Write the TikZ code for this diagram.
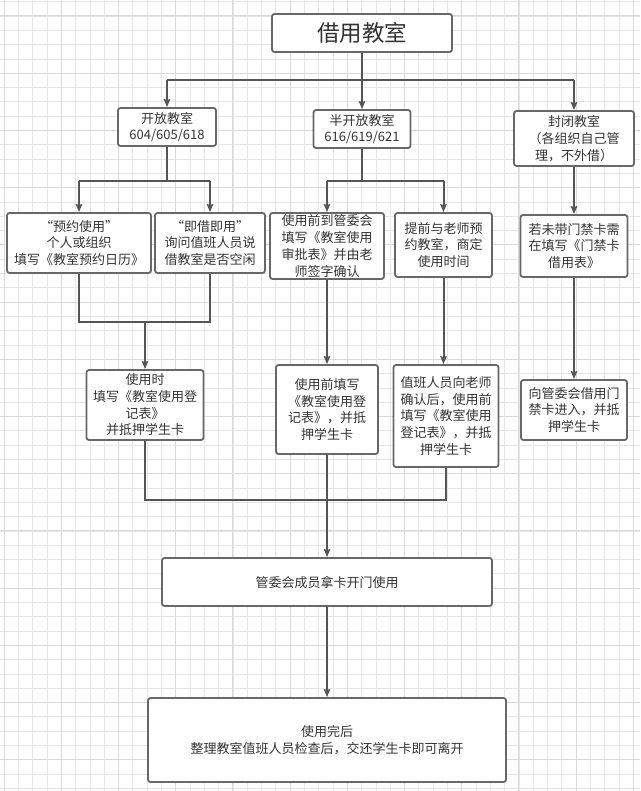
\documentclass[tikz,border=0pt]{standalone}
\usepackage{fontspec}
\setmainfont{Noto Sans CJK SC}
\usetikzlibrary{arrows.meta}
\definecolor{boxline}{HTML}{686868}
\definecolor{conline}{HTML}{555555}
\definecolor{txt}{HTML}{333333}
\definecolor{gminor}{HTML}{E6E6E6}
\definecolor{gmajor}{HTML}{D9D9D9}
\tikzset{
  box/.style={draw=boxline, line width=1.8pt, rounded corners=2.5pt, fill=white,
    align=center, inner sep=0pt, text=txt,
    font=\fontsize{13}{16.7}\selectfont},
  con/.style={draw=conline, line width=2pt},
  arr/.style={con, -{Stealth[length=8pt,width=6.5pt,inset=1pt]}},
  gridminor/.style={draw=gminor, line width=0.6pt},
  gridmajor/.style={draw=gmajor, line width=1pt},
}
\begin{document}
\begin{tikzpicture}[x=1pt,y=-1pt]
\useasboundingbox (0,0) rectangle (640,791);
\fill[white] (0,0) rectangle (640,791);
% grid
\foreach \i in {0,...,44} {\pgfmathsetmacro\xx{4+14.3*\i}\draw[gridminor] (\xx,0) -- (\xx,791);}
\foreach \i in {0,...,55} {\pgfmathsetmacro\yy{1.7+14.3*\i}\draw[gridminor] (0,\yy) -- (640,\yy);}
\foreach \i in {0,...,11} {\pgfmathsetmacro\xx{4+57.2*\i}\draw[gridmajor] (\xx,0) -- (\xx,791);}
\foreach \i in {0,...,13} {\pgfmathsetmacro\yy{16+57.2*\i}\draw[gridmajor] (0,\yy) -- (640,\yy);}

% boxes
\node[box, minimum width=180pt, minimum height=38pt, font=\fontsize{22.5}{26}\selectfont] (title) at (362,33) {借用教室};
\node[box, minimum width=98pt, minimum height=38pt] (open) at (167,127) {开放教室\\604/605/618};
\node[box, minimum width=97pt, minimum height=38pt] (semi) at (362,129) {半开放教室\\616/619/621};
\node[box, minimum width=120pt, minimum height=55pt] (closed) at (574,138.5) {封闭教室\\（各组织自己管\\理，不外借）};

\node[box, minimum width=144pt, minimum height=60pt] (A) at (79,243) {“预约使用”\\个人或组织\\填写《教室预约日历》};
\node[box, minimum width=110pt, minimum height=60pt] (B) at (210,243) {“即借即用”\\询问值班人员说\\借教室是否空闲};
\node[box, minimum width=114pt, minimum height=66pt] (C) at (327,246) {使用前到管委会\\填写《教室使用\\审批表》并由老\\师签字确认};
\node[box, minimum width=97pt, minimum height=64pt] (D) at (443.5,245) {提前与老师预\\约教室，商定\\使用时间};
\node[box, minimum width=107pt, minimum height=62pt] (E) at (574,246) {若未带门禁卡需\\在填写《门禁卡\\借用表》};

\node[box, minimum width=117pt, minimum height=70pt] (F) at (145,405) {使用时\\填写《教室使用登\\记表》\\并抵押学生卡};
\node[box, minimum width=102pt, minimum height=89pt] (G) at (327,409.5) {使用前填写\\《教室使用登\\记表》，并抵\\押学生卡};
\node[box, minimum width=105pt, minimum height=102pt] (H) at (446,416) {值班人员向老师\\确认后，使用前\\填写《教室使用\\登记表》，并抵\\押学生卡};
\node[box, minimum width=106pt, minimum height=60pt] (I) at (574,410) {向管委会借用门\\禁卡进入，并抵\\押学生卡};

\node[box, minimum width=330pt, minimum height=48pt] (J) at (327,582) {管委会成员拿卡开门使用};
\node[box, minimum width=358pt, minimum height=84pt] (K) at (327,740) {使用完后\\整理教室值班人员检查后，交还学生卡即可离开};

% junction coordinates
\coordinate (t1) at (167,80);
\coordinate (t2) at (362,80);
\coordinate (t3) at (574,80);
\coordinate (o0) at (167,181);
\coordinate (o1) at (79,181);
\coordinate (o2) at (210,181);
\coordinate (s0) at (362,181);
\coordinate (s1) at (327,181);
\coordinate (s2) at (443.5,181);
\coordinate (m1) at (79,322);
\coordinate (m2) at (210,322);
\coordinate (m0) at (145,322);
\coordinate (b1) at (145,500);
\coordinate (b2) at (446,500);
\coordinate (b0) at (327,500);

% connectors
\draw[con] (t1) -- (t3);
\draw[arr] (title.south) -- (semi.north);
\draw[arr] (t1) -- (open.north);
\draw[arr] (t3) -- (closed.north);

\draw[con] (open.south) -- (o0);
\draw[con] (o1) -- (o2);
\draw[arr] (o1) -- (A.north);
\draw[arr] (o2) -- (B.north);

\draw[con] (semi.south) -- (s0);
\draw[con] (s1) -- (s2);
\draw[arr] (s1) -- (C.north);
\draw[arr] (s2) -- (D.north);

\draw[arr] (closed.south) -- (E.north);
\draw[arr] (E.south) -- (I.north);

\draw[con] (A.south) -- (m1) -- (m2) -- (B.south);
\draw[arr] (m0) -- (F.north);

\draw[arr] (C.south) -- (G.north);
\draw[arr] (D.south) -- (D.south |- H.north);

\draw[con] (F.south) -- (b1) -- (b2) -- (H.south);
\draw[arr] (G.south) -- (J.north);
\draw[arr] (J.south) -- (K.north);
\end{tikzpicture}
\end{document}
